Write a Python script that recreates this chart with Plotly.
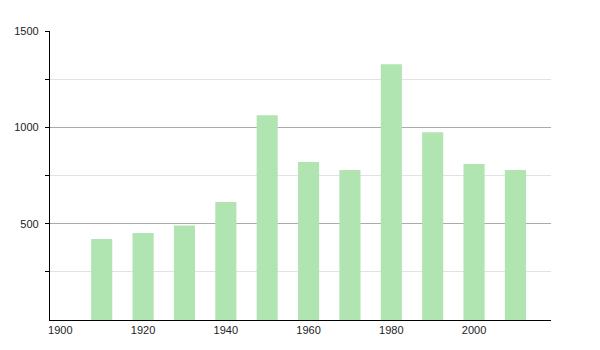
import plotly.graph_objects as go

years = [1910, 1920, 1930, 1940, 1950, 1960, 1970, 1980, 1990, 2000, 2010]
population = [420, 452, 490, 612, 1063, 820, 779, 1327, 975, 810, 778]
x_ticks = [1900, 1920, 1940, 1960, 1980, 2000]
y_ticks = [500, 1000, 1500]

fig = go.Figure(
    go.Bar(
        x=years,
        y=population,
        width=5.1,
        marker=dict(color="#b0e4b0", line=dict(width=0)),
    )
)

fig.update_layout(
    width=600,
    height=350,
    margin=dict(l=50, r=49, t=31, b=30),
    paper_bgcolor="white",
    plot_bgcolor="white",
    showlegend=False,
    font=dict(family="Liberation Sans, Arial, sans-serif", size=11, color="#222"),
    xaxis=dict(
        range=[1897.5, 2018.6],
        tickmode="array",
        tickvals=x_ticks,
        ticktext=[str(v) for v in x_ticks],
        showgrid=False,
        zeroline=False,
        showline=True,
        linecolor="black",
        linewidth=1.3,
        ticks="",
        ticklen=0,
    ),
    yaxis=dict(
        range=[0, 1500],
        tickmode="array",
        tickvals=y_ticks,
        ticktext=[str(v) for v in y_ticks],
        showgrid=True,
        gridcolor="#aaaaaa",
        gridwidth=1,
        zeroline=False,
        showline=True,
        linecolor="black",
        linewidth=1.3,
        ticks="outside",
        ticklen=4,
        tickcolor="black",
        ticklabelstandoff=4,
        minor=dict(
            tickmode="array",
            tickvals=[250, 750, 1250],
            showgrid=True,
            gridcolor="#e2e2e2",
            ticks="outside",
            ticklen=4,
            tickcolor="black",
        ),
    ),
)

fig.write_html("out.html")
